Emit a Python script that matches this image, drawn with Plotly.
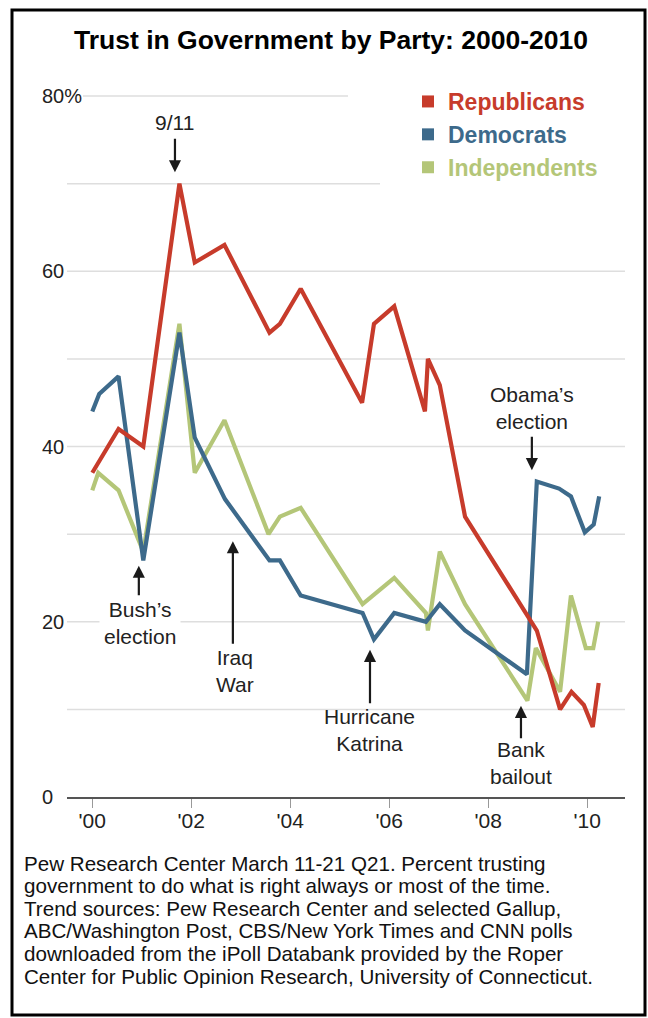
import plotly.graph_objects as go

# ---- data (decimal years, percent) ----
rep_x = [2000.0, 2000.53, 2001.03, 2001.76, 2002.07, 2002.67, 2003.58, 2003.79, 2004.21,
         2005.45, 2005.69, 2006.10, 2006.72, 2006.78, 2007.02, 2007.53, 2008.98, 2009.45,
         2009.68, 2009.93, 2010.11, 2010.23]
rep_y = [37, 42, 40, 70, 61, 63, 53, 54, 58, 45, 54, 56, 44, 50, 47, 32, 19, 10, 12, 10.5, 8, 13]

dem_x = [2000.0, 2000.14, 2000.53, 2001.03, 2001.76, 2002.07, 2002.68, 2003.58, 2003.79,
         2004.21, 2005.46, 2005.69, 2006.10, 2006.74, 2007.02, 2007.53, 2008.78, 2008.98,
         2009.43, 2009.67, 2009.95, 2010.13, 2010.24]
dem_y = [44, 46, 48, 27, 53, 41, 34, 27, 27, 23, 21, 18, 21, 20, 22, 19, 14, 36, 35.2, 34.3,
         30.2, 31.1, 34.3]

ind_x = [2000.0, 2000.12, 2000.53, 2001.03, 2001.76, 2002.07, 2002.67, 2003.56, 2003.79,
         2004.21, 2005.46, 2006.10, 2006.74, 2006.78, 2007.02, 2007.53, 2008.79, 2008.96,
         2009.45, 2009.67, 2009.97, 2010.12, 2010.22]
ind_y = [35, 37, 35, 28, 54, 37, 43, 30, 32, 33, 22, 25, 21, 19, 28, 22, 11, 17, 12, 23, 17, 17, 20]

x_tickvals = [2000, 2002, 2004, 2006, 2008, 2010]
x_ticktext = ["'00", "'02", "'04", "'06", "'08", "'10"]
y_tickvals = [80, 60, 40, 20, 0]
y_ticktext = ["80%", "60", "40", "20", "0"]
grid_vals = [10, 20, 30, 40, 50, 60, 70, 80]

series_names = ["Republicans", "Democrats", "Independents"]
colors = {"Republicans": "#C73B2B", "Democrats": "#3D6A8B", "Independents": "#B4C678"}

footer_lines = [
    "Pew Research Center March 11-21 Q21. Percent trusting",
    "government to do what is right always or most of the time.",
    "Trend sources: Pew Research Center and selected Gallup,",
    "ABC/Washington Post, CBS/New York Times and CNN polls",
    "downloaded from the iPoll Databank provided by the Roper",
    "Center for Public Opinion Research, University of Connecticut.",
]

FONT = "Liberation Sans, Arial, sans-serif"
TXT = "#222222"

# plot-area geometry (pixels)
W, H = 648, 1018
L, R = 67, 625
T, B = 85, 797
PW, PH = R - L, B - T


def px_x(px):
    return (px - L) / PW


def px_y(py):
    return (B - py) / PH


fig = go.Figure()

for name, xs, ys in [("Independents", ind_x, ind_y), ("Democrats", dem_x, dem_y),
                     ("Republicans", rep_x, rep_y)]:
    fig.add_trace(go.Scatter(x=xs, y=ys, mode="lines", showlegend=False,
                             line=dict(color=colors[name], width=4.2),
                             hoverinfo="skip"))

for name in series_names:
    fig.add_trace(go.Scatter(
        x=[None], y=[None], mode="markers",
        marker=dict(symbol="square", size=11, color=colors[name]),
        name=f"<b><span style='color:{colors[name]}'>{name}</span></b>",
        showlegend=True))

shapes = []
for v in grid_vals:
    x0 = 83 if v == 80 else L
    x1 = 348 if v == 80 else (380 if v == 70 else R)
    shapes.append(dict(type="line", xref="paper", yref="y", x0=px_x(x0), x1=px_x(x1),
                       y0=v, y1=v, line=dict(color="#DEDEDE", width=1.5), layer="below"))
# outer frame
shapes.append(dict(type="rect", xref="paper", yref="paper",
                   x0=px_x(12), x1=px_x(645), y0=px_y(1015), y1=px_y(10),
                   line=dict(color="black", width=3), layer="above"))

annotations = []
for v, t in zip(y_tickvals, y_ticktext):
    annotations.append(dict(xref="paper", yref="y", x=px_x(40), y=v, text=t,
                            showarrow=False, xanchor="left", yanchor="middle",
                            font=dict(family=FONT, size=20, color=TXT)))

# event labels
labels = [
    ("9/11", 2001.67, 77.0, None),
    ("Bush’s<br>election", 2000.96, 19.86, "white"),
    ("Iraq<br>War", 2002.88, 14.4, None),
    ("Hurricane<br>Katrina", 2005.61, 7.65, None),
    ("Obama’s<br>election", 2008.88, 44.4, None),
    ("Bank<br>bailout", 2008.66, 3.9, None),
]
for t, x, y, bg in labels:
    a = dict(xref="x", yref="y", x=x, y=y, text=t, showarrow=False,
             xanchor="center", yanchor="middle",
             font=dict(family=FONT, size=21, color=TXT))
    if bg:
        a["bgcolor"] = bg
        a["borderpad"] = 4
    annotations.append(a)

# arrows: (x, tip y, offset in px)
arrows = [
    (2001.67, 71.3, -35),
    (2000.94, 26.4, 31),
    (2002.84, 29.2, 104),
    (2005.61, 16.8, 55),
    (2008.88, 37.3, -35),
    (2008.66, 10.4, 34),
]
for x, y, ay in arrows:
    annotations.append(dict(xref="x", yref="y", x=x, y=y, text="", showarrow=True,
                            ax=0, ay=ay, arrowhead=2, arrowsize=1.1, arrowwidth=2.2,
                            arrowcolor="#1a1a1a", standoff=0))

for i, line in enumerate(footer_lines):
    annotations.append(dict(xref="paper", yref="paper", x=px_x(22), y=px_y(863 + 22.6 * i),
                            text=line, showarrow=False, xanchor="left", yanchor="middle",
                            align="left", font=dict(family=FONT, size=20.6, color="#111111")))

x_lo = 2000 - (92.3 - L) / 49.5
x_hi = 2010 + (R - 587.3) / 49.5
ppu = (797 - 96) / 80.0
y_hi = (B - T) / ppu

fig.update_layout(
    width=W, height=H,
    margin=dict(l=L, r=W - R, t=T, b=H - B, pad=0),
    paper_bgcolor="white", plot_bgcolor="white",
    title=dict(text="<b>Trust in Government by Party: 2000-2010</b>",
               x=331 / W, xanchor="center", y=1 - 40 / H, yanchor="middle",
               font=dict(family=FONT, size=26.5, color="black")),
    xaxis=dict(range=[x_lo, x_hi], tickvals=x_tickvals, ticktext=x_ticktext,
               showgrid=False, zeroline=False, showline=True, linecolor="#555555",
               linewidth=1.6, ticks="outside", ticklen=9, tickcolor="#999999",
               tickwidth=1, tickfont=dict(family=FONT, size=21, color=TXT),
               ticklabelstandoff=-5, fixedrange=True),
    yaxis=dict(range=[0, y_hi], showgrid=False, zeroline=False, showline=False,
               showticklabels=False, ticks="", fixedrange=True),
    legend=dict(x=px_x(408), y=px_y(80), xanchor="left", yanchor="top",
                bgcolor="rgba(0,0,0,0)", font=dict(family=FONT, size=23),
                itemsizing="constant", tracegroupgap=0),
    shapes=shapes,
    annotations=annotations,
    showlegend=True,
)

fig.write_html("out.html")
